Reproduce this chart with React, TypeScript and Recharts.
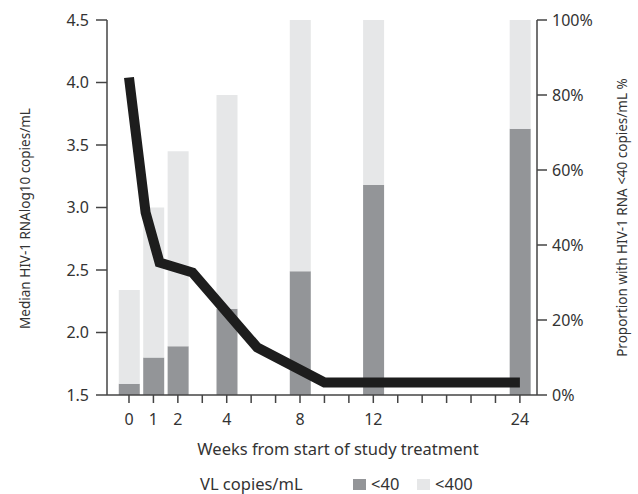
import React from 'react'
import { ComposedChart, Bar, Line, XAxis, YAxis, Legend, Label } from 'recharts'

// bar positions on the axis (slot index) and their proportions
const barSlots = [0, 1, 2, 4, 7, 10, 16]
const pctBelow40 = [3, 10, 13, 23, 33, 56, 71]
const pctBelow400 = [28, 50, 65, 80, 100, 100, 100]

// median viral load line (slot position, log10 copies/mL)
const lineSlots = [0, 0.68, 1.25, 2.6, 5.25, 8, 16]
const medianLog = [4.04, 2.96, 2.56, 2.48, 1.88, 1.6, 1.6]

const xTickLabels = ['0', '1', '2', '', '4', '', '', '8', '', '', '12', '', '', '', '', '', '24']
const leftTicks = [1.5, 2.0, 2.5, 3.0, 3.5, 4.0, 4.5]
const rightTicks = [0, 20, 40, 60, 80, 100]
const X_DOMAIN: [number, number] = [-0.9, 16.7]

const FONT = '"Noto Sans", sans-serif'
const TEXT = '#333'
const AXIS = '#444'
const DARK = '#939598'
const LIGHT = '#e6e7e8'

const barData = barSlots.map((x, i) => ({
  x,
  lt40: pctBelow40[i],
  lt400: pctBelow400[i] - pctBelow40[i],
}))
const lineData = lineSlots.map((x, i) => ({ x, median: medianLog[i] }))

const tickStyle = { fill: TEXT, fontSize: 16, fontFamily: FONT }

function LeftTitle(props: any) {
  const vb = props.viewBox
  const cx = vb.x + 13
  const cy = vb.y + vb.height / 2 + 11
  return (
    <text x={cx} y={cy} transform={`rotate(-90 ${cx} ${cy})`} textAnchor="middle"
      dominantBaseline="central" fill={TEXT} fontSize={13.5} fontFamily={FONT}>
      Median HIV-1 RNAlog10 copies/mL
    </text>
  )
}

function RightTitle(props: any) {
  const vb = props.viewBox
  const cx = vb.x + 85
  const cy = vb.y + vb.height / 2 + 10
  return (
    <text x={cx} y={cy} transform={`rotate(-90 ${cx} ${cy})`} textAnchor="middle"
      dominantBaseline="central" fill={TEXT} fontSize={13.5} fontFamily={FONT}>
      Proportion with HIV-1 RNA &lt;40 copies/mL %
    </text>
  )
}

function BottomTitle(props: any) {
  const vb = props.viewBox
  return (
    <text x={vb.x + vb.width / 2 + 16} y={vb.y + 53} textAnchor="middle"
      dominantBaseline="central" fill={TEXT} fontSize={16.5} fontFamily={FONT}>
      Weeks from start of study treatment
    </text>
  )
}

function LegendBox() {
  const swatch = (c: string) => (
    <span style={{ display: 'inline-block', width: 13, height: 11, background: c, marginRight: 5 }} />
  )
  return (
    <div style={{ display: 'flex', alignItems: 'center', fontFamily: FONT, fontSize: 16.5, lineHeight: '18px', height: 18, color: TEXT, whiteSpace: 'nowrap' }}>
      <span style={{ width: 153 }}>VL copies/mL</span>
      {swatch(DARK)}
      <span style={{ width: 46 }}>&lt;40</span>
      {swatch(LIGHT)}
      <span>&lt;400</span>
    </div>
  )
}

export default function App() {
  return (
    <div style={{ position: 'absolute', left: 0, top: 0, background: '#fff' }}>
      <ComposedChart width={638} height={494} data={barData}
        margin={{ top: 20, right: 6, bottom: 29, left: 12 }}>
        <XAxis dataKey="x" type="number" domain={X_DOMAIN} allowDataOverflow
          ticks={xTickLabels.map((_, i) => i)}
          interval={0} tickFormatter={(v: number) => xTickLabels[v] ?? ''}
          height={70} tick={tickStyle} tickSize={8} tickMargin={11}
          axisLine={{ stroke: AXIS, strokeWidth: 1.5 }} tickLine={{ stroke: AXIS, strokeWidth: 1.5 }}>
          <Label content={<BottomTitle />} />
        </XAxis>
        <XAxis xAxisId="line" dataKey="x" type="number" domain={X_DOMAIN} allowDataOverflow hide />
        <YAxis yAxisId="left" domain={[1.5, 4.5]} ticks={leftTicks} interval={0}
          tickFormatter={(v: number) => v.toFixed(1)} width={95} tick={tickStyle}
          tickSize={11} tickMargin={7}
          axisLine={{ stroke: AXIS, strokeWidth: 1.5 }} tickLine={{ stroke: AXIS, strokeWidth: 1.5 }}>
          <Label content={<LeftTitle />} />
        </YAxis>
        <YAxis yAxisId="right" orientation="right" domain={[0, 100]} ticks={rightTicks} interval={0}
          tickFormatter={(v: number) => `${v}%`} width={95} tick={tickStyle}
          tickSize={10} tickMargin={5}
          axisLine={{ stroke: AXIS, strokeWidth: 1.5 }} tickLine={{ stroke: AXIS, strokeWidth: 1.5 }}>
          <Label content={<RightTitle />} />
        </YAxis>
        <Legend layout="horizontal" verticalAlign="middle" content={<LegendBox />}
          wrapperStyle={{ top: 475, left: 200, width: 320, height: 18 }} />
        <Bar yAxisId="right" dataKey="lt40" stackId="vl" fill={DARK} barSize={21} isAnimationActive={false} />
        <Bar yAxisId="right" dataKey="lt400" stackId="vl" fill={LIGHT} barSize={21} isAnimationActive={false} />
        <Line xAxisId="line" yAxisId="left" data={lineData} dataKey="median" type="linear"
          stroke="#1d1d1d" strokeWidth={10} strokeLinejoin="miter" dot={false} activeDot={false}
          isAnimationActive={false} />
      </ComposedChart>
    </div>
  )
}
